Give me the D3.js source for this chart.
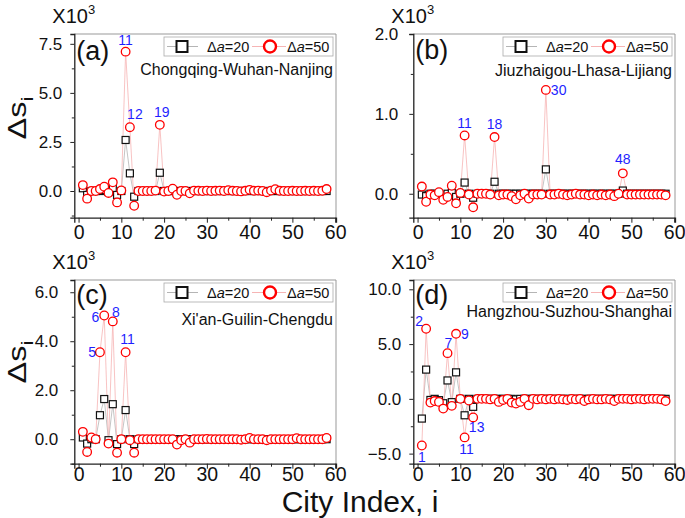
<!DOCTYPE html>
<html><head><meta charset="utf-8">
<script src="https://cdn.jsdelivr.net/npm/d3@7"></script>
<style>
body{margin:0;background:#fff}
svg{display:block}
text{font-family:'Liberation Sans',Arial,sans-serif}
</style>
</head><body>
<svg id="chart" width="685" height="518"></svg>
<script>
// ---------- DATA ----------
const cityIndex = [1,2,3,4,5,6,7,8,9,10,11,12,13,14,15,16,17,18,19,20,21,22,23,24,25,26,27,28,29,30,31,32,33,34,35,36,37,38,39,40,41,42,43,44,45,46,47,48,49,50,51,52,53,54,55,56,57,58];
const panelLetters = ["(a)","(b)","(c)","(d)"];
const routeNames = ["Chongqing-Wuhan-Nanjing","Jiuzhaigou-Lhasa-Lijiang","Xi'an-Guilin-Chengdu","Hangzhou-Suzhou-Shanghai"];
const seriesValues = ["20","50"];
const xTicks = [0,10,20,30,40,50,60];
const xMinorTicks = [5,15,25,35,45,55];

// values in units of 10^3
const aDa20 = [0.14,-0.2,0,0,0,0.05,-0.05,0.14,-0.2,0,2.6,0.9,-0.29,0,0,0,0,0,0.93,0,0,0,0,0,0,0,0,0,0,0,0,0,0,0,0,0,0,0,0,0,0,0,0,0,0,0,0,0,0,0,0,0,0,0,0,0,0,0];
const aDa50 = [0.30,-0.39,0,0,0.1,0.22,-0.1,0.44,-0.58,0.03,7.1,3.25,-0.75,0,0,0,0,0.02,3.37,-0.03,0,0.12,-0.19,0,0,-0.12,0.02,0.01,0,0.02,0,0.01,0.02,0,0.04,0.01,0,-0.02,0.01,0.06,0.01,0.02,0,-0.06,0.02,0.09,0.01,0,0,0.01,0,0,0.01,0,0.01,0,0.01,0.1];
const bDa20 = [-0.01,-0.03,0,0,0,-0.02,0,0.01,-0.04,0,0.14,0,-0.05,0,0,0,0,0.15,0,0,0,0,0,0,0,0,0,0,0,0.305,0,0,0,0,0,0,0,0,0,0,0,0,0,0,0,0,0,0.04,0,0,0,0,0,0,0,0,0,0];
const bDa50 = [0.09,-0.1,-0.01,-0.02,0.02,-0.075,-0.04,0.1,-0.12,0.01,0.73,-0.01,-0.17,0,0,0,-0.01,0.71,-0.02,-0.01,-0.01,-0.03,-0.07,-0.02,0,-0.06,-0.01,-0.01,-0.01,1.30,-0.01,-0.01,0,-0.01,-0.02,-0.01,0,-0.01,-0.01,-0.02,-0.01,-0.02,-0.01,-0.02,-0.01,-0.03,0,0.255,-0.01,-0.01,-0.01,-0.01,-0.01,-0.01,-0.01,-0.01,-0.01,-0.02];
const cDa20 = [0.07,-0.18,0,0,0.98,1.64,-0.04,1.43,-0.2,0,1.19,0,-0.2,0,0,0,0,0,0,0,0,0,0,0,0,0,0,0,0,0,0,0,0,0,0,0,0,0,0,0,0,0,0,0,0,0,0,0,0,0,0,0,0,0,0,0,0,0];
const cDa50 = [0.3,-0.52,0.07,0,3.55,5.05,-0.18,4.81,-0.55,0,3.55,-0.04,-0.55,0,0,0,0,0,0,0,0,0,-0.22,-0.04,0,-0.14,0,0,0,0.01,0,0,0,0,0,0,0,-0.02,0,0.05,0,0,0,-0.04,0,0,0,0,0,0,0.04,0,0,0,0,0,0,0.05];
const dDa20 = [-1.8,2.67,-0.1,0,-0.12,-0.4,1.68,-0.3,2.42,0,-1.5,0,-0.73,0,0,0,0,0,0,0,0,0,-0.05,0,0,0,0,0,0,0,0,0,0,0,0,0,0,0,0,0,0,0,0,0,0,0,0,0,0,0,0,0,0,0,0,0,0,0];
const dDa50 = [-4.26,6.4,-0.34,-0.2,-0.28,-0.89,4.17,-0.64,5.94,0,-3.52,-0.15,-1.7,0,0,0,-0.05,0,-0.28,-0.1,0,-0.34,-0.43,-0.28,0,-0.58,0,-0.05,0,-0.05,0,-0.05,0,-0.05,-0.1,0,-0.05,0,-0.2,-0.05,0,-0.05,-0.05,0,-0.05,-0.2,0,0,0,-0.05,0,0,-0.05,0,0,0,-0.05,-0.2];

const yTicksA = [0,2.5,5,7.5], yMinorA = [-1.25,1.25,3.75,6.25];
const yTicksB = [0,1,2],       yMinorB = [0.5,1.5];
const yTicksC = [0,2,4,6],     yMinorC = [-1,1,3,5];
const yTicksD = [-5,0,5,10],   yMinorD = [-2.5,2.5,7.5];

const peaksA = [11,12,19];
const peaksB = [11,18,30,48];
const peaksC = [5,6,8,11];
const peaksD = [1,2,7,9,11,13];

// ---------- LAYOUT / STYLE ----------
const W = 261.7, H = 183.7;
const layout = [
  {left:74.3, top:34, ydom:[-1.36,8.0], pad:8, routeY:41, xpad:2},
  {left:413.3, top:34, ydom:[-0.3,2.0], pad:11, routeY:42, xpad:2},
  {left:74.3, top:280, ydom:[-1.0,6.5], pad:12, routeY:45, xpad:-1.5},
  {left:413.3, top:280, ydom:[-5.92,10.85], pad:8, routeY:37, xpad:-1.5}
];
// label placement: [dx, dy, anchor]
const peakPlace = [
  {11:[0,-7,'middle'],12:[5,-8,'middle'],19:[2,-8,'middle']},
  {11:[0,-7,'middle'],18:[0,-8,'middle'],30:[5,5,'start'],48:[0,-9,'middle']},
  {5:[-4,5,'end'],6:[-5,6,'end'],8:[3,-4,'middle'],11:[2,-8,'middle']},
  {1:[0,16,'middle'],2:[-3,-3,'end'],7:[1,-5,'middle'],9:[5,5,'start'],11:[2,17,'middle'],13:[3.5,15,'middle']}
];

const panels = [
  {s20:aDa20, s50:aDa50, yt:yTicksA, ym:yMinorA, peaks:peaksA},
  {s20:bDa20, s50:bDa50, yt:yTicksB, ym:yMinorB, peaks:peaksB},
  {s20:cDa20, s50:cDa50, yt:yTicksC, ym:yMinorC, peaks:peaksC},
  {s20:dDa20, s50:dDa50, yt:yTicksD, ym:yMinorD, peaks:peaksD}
];

const svg = d3.select('#chart');
const BLUE = '#1f1fff', RED = '#ff0000';

panels.forEach((p, k) => {
  const L = layout[k];
  const g = svg.append('g').attr('transform', `translate(${L.left},${L.top})`);
  const x = d3.scaleLinear().domain([-1, 60.2]).range([0, W]);
  const y = d3.scaleLinear().domain(L.ydom).range([H, 0]);

  // frame
  g.append('line').attr('x1',0).attr('x2',W).attr('y1',0).attr('y2',0).attr('stroke','#999').attr('stroke-width',1);
  g.append('line').attr('x1',W).attr('x2',W).attr('y1',0).attr('y2',H).attr('stroke','#999').attr('stroke-width',1);

  // y axis
  const ya = g.append('g').call(d3.axisLeft(y).tickValues(p.yt).tickSize(4).tickPadding(L.pad).tickFormat(d3.format('.1f')));
  ya.select('.domain').attr('stroke','#222').attr('stroke-width',1.3);
  ya.selectAll('.tick line').attr('stroke','#222').attr('stroke-width',1);
  ya.selectAll('text').attr('font-size',17).attr('fill','#111').style('font-family',"'Liberation Sans',Arial,sans-serif");
  const ym = g.append('g').call(d3.axisLeft(y).tickValues(p.ym).tickSize(2.5).tickFormat(''));
  ym.select('.domain').remove();
  ym.selectAll('.tick line').attr('stroke','#222');

  // x axis
  const xa = g.append('g').attr('transform',`translate(0,${H})`)
    .call(d3.axisBottom(x).tickValues(xTicks).tickSize(5).tickPadding(L.xpad).tickFormat(d3.format('d')));
  xa.select('.domain').attr('stroke','#222').attr('stroke-width',1.3);
  xa.selectAll('.tick line').attr('stroke','#222');
  xa.selectAll('text').attr('font-size',19.5).attr('fill','#111').style('font-family',"'Liberation Sans',Arial,sans-serif");
  const xm = g.append('g').attr('transform',`translate(0,${H})`)
    .call(d3.axisBottom(x).tickValues(xMinorTicks).tickSize(3).tickFormat(''));
  xm.select('.domain').remove();
  xm.selectAll('.tick line').attr('stroke','#222');

  // lines
  const line = d3.line().x((d,i)=>x(cityIndex[i])).y(d=>y(d));
  g.append('path').datum(p.s20).attr('d',line).attr('fill','none').attr('stroke','#b5b5b5').attr('stroke-width',0.8);
  g.append('path').datum(p.s50).attr('d',line).attr('fill','none').attr('stroke','#f6b4b4').attr('stroke-width',0.8);

  // markers
  const sq = 7;
  g.append('g').selectAll('rect').data(p.s20).join('rect')
    .attr('x',(d,i)=>x(cityIndex[i])-sq/2).attr('y',d=>y(d)-sq/2)
    .attr('width',sq).attr('height',sq).attr('fill','#fff').attr('stroke','#111').attr('stroke-width',1.2);
  g.append('g').selectAll('circle').data(p.s50).join('circle')
    .attr('cx',(d,i)=>x(cityIndex[i])).attr('cy',d=>y(d)).attr('r',4.3)
    .attr('fill','#fff').attr('stroke',RED).attr('stroke-width',1.3);

  // peak labels
  p.peaks.forEach(idx => {
    const pl = peakPlace[k][idx];
    const v = p.s50[cityIndex.indexOf(idx)];
    g.append('text').attr('x', x(idx)+pl[0]).attr('y', y(v)+pl[1])
      .attr('text-anchor', pl[2]).attr('font-size',14).attr('fill',BLUE).text(idx);
  });

  // panel letter
  g.append('text').attr('x',2).attr('y',k===0?25.5:(k===1?24.5:23.5))
    .attr('font-size',27).attr('fill','#111').text(panelLetters[k]);

  // route name
  g.append('text').attr('x',W-3).attr('y',L.routeY).attr('text-anchor','end')
    .attr('font-size',16).attr('fill','#111').text(routeNames[k]);

  // legend
  const bx = W-3-169, by = 3;
  const lg = g.append('g').attr('transform',`translate(${bx},${by})`);
  lg.append('rect').attr('width',169).attr('height',19).attr('fill','#fff').attr('stroke','#aaa').attr('stroke-width',0.8);
  lg.append('line').attr('x1',3).attr('x2',34).attr('y1',9.5).attr('y2',9.5).attr('stroke','#b5b5b5').attr('stroke-width',1);
  lg.append('rect').attr('x',18-5.5).attr('y',9.5-5.5).attr('width',11).attr('height',11).attr('fill','#fff').attr('stroke','#111').attr('stroke-width',2);
  lg.append('line').attr('x1',88).attr('x2',122).attr('y1',9.5).attr('y2',9.5).attr('stroke','#f6b4b4').attr('stroke-width',1);
  lg.append('circle').attr('cx',106).attr('cy',9.5).attr('r',6).attr('fill','#fff').attr('stroke',RED).attr('stroke-width',2.4);
  [[43,seriesValues[0]],[123,seriesValues[1]]].forEach(([tx,val]) => {
    const t = lg.append('text').attr('x',tx).attr('y',14.5).attr('font-size',14.5).attr('fill','#111');
    t.append('tspan').text('\u0394');
    t.append('tspan').attr('font-style','italic').text('a');
    t.append('tspan').text('=' + val);
  });

  // X10^3
  const ex = svg.append('text').attr('x',L.left-22).attr('y',L.top-11).attr('font-size',20).attr('fill','#111');
  ex.append('tspan').text('X10');
  ex.append('tspan').attr('dy',-9).attr('font-size',13).text('3');
});

// y-axis titles
[118, 362].forEach(cy => {
  const t = svg.append('text').attr('transform',`translate(26,${cy}) rotate(-90) scale(1.3,1)`)
    .attr('text-anchor','middle').attr('font-size',25).attr('fill','#111');
  t.append('tspan').text('\u0394s');
  t.append('tspan').attr('dy',7).attr('font-size',17).text('i');
});

// x-axis title
svg.append('text').attr('x',360).attr('y',512).attr('text-anchor','middle')
  .attr('font-size',30).attr('fill','#111').text('City Index, i');
</script>
</body></html>
